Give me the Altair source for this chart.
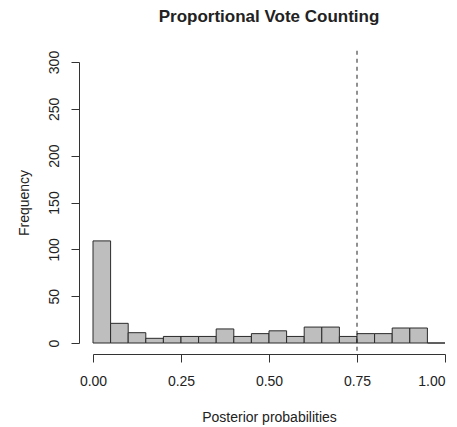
import altair as alt
import pandas as pd

bin_start = [0.00, 0.05, 0.10, 0.15, 0.20, 0.25, 0.30, 0.35, 0.40, 0.45,
             0.50, 0.55, 0.60, 0.65, 0.70, 0.75, 0.80, 0.85, 0.90, 0.95]
bin_end = [0.05, 0.10, 0.15, 0.20, 0.25, 0.30, 0.35, 0.40, 0.45, 0.50,
           0.55, 0.60, 0.65, 0.70, 0.75, 0.80, 0.85, 0.90, 0.95, 1.00]
counts = [109, 21, 11, 5, 7, 7, 7, 15, 7, 10,
          13, 7, 17, 17, 7, 10, 10, 16, 16, 0]
x_ticks = [0.0, 0.25, 0.5, 0.75, 1.0]
y_ticks = [0, 50, 100, 150, 200, 250, 300]
cutoff = [0.75]
cutoff_span = [312, -12]

FONT = "Liberation Sans"
INK = "#222222"

hist = pd.DataFrame({"start": bin_start, "end": bin_end, "count": counts})
vline = pd.DataFrame({"x": cutoff, "y": [cutoff_span[0]], "y2": [cutoff_span[1]]})

x_scale = alt.Scale(domain=[0, 1], nice=False, zero=False)
y_scale = alt.Scale(domain=[0, 300], nice=False)

bars = alt.Chart(hist).mark_rect(
    fill="#bebebe", stroke="#2a2a2a", strokeWidth=1
).encode(
    x=alt.X("start:Q", scale=x_scale,
            axis=alt.Axis(values=x_ticks, format=".2f", title="Posterior probabilities",
                          offset=11, tickSize=8, labelPadding=12, titlePadding=22,
                          labelAlign=alt.ExprRef(expr="datum.value >= 1 ? 'right' : 'center'"),
                          grid=False, domainColor="#333333", tickColor="#333333",
                          labelFont=FONT, labelFontSize=14, labelColor=INK,
                          titleFont=FONT, titleFontSize=14, titleFontWeight="normal",
                          titleColor=INK, labelFlush=False, labelOverlap=False)),
    x2="end:Q",
    y=alt.Y("count:Q", scale=y_scale,
            axis=alt.Axis(values=y_ticks, title="Frequency", offset=14, tickSize=8,
                          labelAngle=270, labelAlign="center", labelBaseline="alphabetic",
                          labelPadding=13, titlePadding=16, grid=False,
                          domainColor="#333333", tickColor="#333333",
                          labelFont=FONT, labelFontSize=14, labelColor=INK,
                          titleFont=FONT, titleFontSize=14, titleFontWeight="normal",
                          titleColor=INK, labelFlush=False, labelOverlap=False)),
    y2=alt.datum(0),
)

rule = alt.Chart(vline).mark_rule(
    color="#222222", strokeDash=[4, 4], strokeWidth=1, clip=False
).encode(
    x=alt.X("x:Q", scale=x_scale),
    y=alt.Y("y:Q", scale=y_scale),
    y2="y2:Q",
)

chart = alt.layer(bars, rule).properties(
    width=352,
    height=281,
    title=alt.TitleParams("Proportional Vote Counting", font=FONT, fontSize=17,
                          fontWeight="bold", color=INK, anchor="middle", offset=24),
    autosize=alt.AutoSizeParams(type="none"),
    padding={"left": 85, "top": 54, "right": 4, "bottom": 84},
).configure_view(stroke="transparent", strokeWidth=0)

chart.save("out.html", embed_options={"renderer": "svg", "actions": False})
